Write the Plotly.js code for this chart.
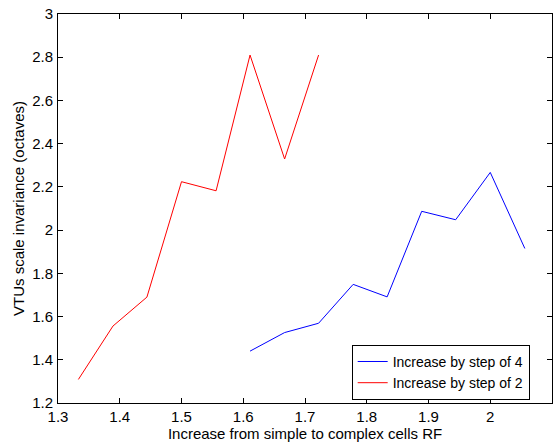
<!DOCTYPE html>
<html>
<head>
<meta charset="utf-8">
<script src="https://cdn.plot.ly/plotly-3.0.1.min.js"></script>
<style>html,body{margin:0;padding:0;background:#fff;}#chart{width:560px;height:445px;}</style>
</head>
<body>
<div id="chart"></div>
<script>
var step4X = [1.611, 1.667, 1.722, 1.778, 1.833, 1.889, 1.944, 2.0, 2.056];
var step4Y = [1.440, 1.526, 1.569, 1.749, 1.691, 2.087, 2.048, 2.267, 1.915];
var step2X = [1.333, 1.389, 1.444, 1.5, 1.556, 1.611, 1.667, 1.722];
var step2Y = [1.309, 1.556, 1.690, 2.224, 2.182, 2.810, 2.329, 2.810];
var seriesNames = ["Increase by step of 4", "Increase by step of 2"];
var xTicks = [1.3, 1.4, 1.5, 1.6, 1.7, 1.8, 1.9, 2, 2.1];
var xTickLabels = ["1.3", "1.4", "1.5", "1.6", "1.7", "1.8", "1.9", "2", "2.1"];
var yTicks = [1.2, 1.4, 1.6, 1.8, 2, 2.2, 2.4, 2.6, 2.8, 3];
var yTickLabels = ["1.2", "1.4", "1.6", "1.8", "2", "2.2", "2.4", "2.6", "2.8", "3"];

var font = "Liberation Sans, Arial, Helvetica, sans-serif";
var traces = [
  {x: step4X, y: step4Y, name: seriesNames[0], mode: "lines", line: {color: "#0000ff", width: 1}},
  {x: step2X, y: step2Y, name: seriesNames[1], mode: "lines", line: {color: "#ff0000", width: 1}}
];
var axisCommon = {
  showgrid: false, zeroline: false, showline: true, linecolor: "#000", linewidth: 1,
  mirror: "ticks", ticks: "inside", ticklen: 5, tickcolor: "#000", tickwidth: 1,
  tickfont: {family: font, size: 15, color: "#000"}, tickmode: "array"
};
var layout = {
  width: 560, height: 445,
  margin: {l: 58, r: 8, t: 14, b: 42},
  paper_bgcolor: "#fff", plot_bgcolor: "#fff",
  showlegend: true,
  legend: {x: 0.5945, y: 0.008, xanchor: "left", yanchor: "bottom", bordercolor: "#000", borderwidth: 1,
           bgcolor: "#fff", font: {family: font, size: 14, color: "#000"}, tracegroupgap: 0},
  xaxis: Object.assign({}, axisCommon, {range: [1.3, 2.1], tickvals: xTicks, ticktext: xTickLabels,
    ticklabelstandoff: 0,
    title: {text: "Increase from simple to complex cells RF", font: {family: font, size: 15, color: "#000"}, standoff: 0}}),
  yaxis: Object.assign({}, axisCommon, {range: [1.2, 3], tickvals: yTicks, ticktext: yTickLabels,
    ticklabelstandoff: 1,
    title: {text: "VTUs scale invariance (octaves)", font: {family: font, size: 15, color: "#000"}, standoff: 3}})
};
Plotly.newPlot("chart", traces, layout, {displayModeBar: false, staticPlot: true});
</script>
</body>
</html>
